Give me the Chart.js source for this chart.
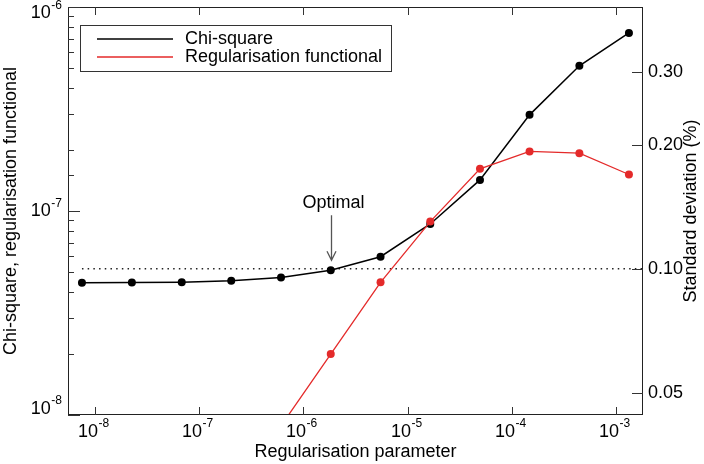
<!DOCTYPE html>
<html>
<head>
<meta charset="utf-8">
<script src="https://cdn.jsdelivr.net/npm/chart.js@4.4.1/dist/chart.umd.min.js"></script>
<style>
  html, body { margin: 0; padding: 0; background: #fff; }
  canvas { display: block; }
</style>
</head>
<body>
<canvas id="chart" width="704" height="464"></canvas>
<script>
// Datos
const regParam = [7.5e-9, 2.26e-8, 6.8e-8, 2.03e-7, 6.1e-7, 1.83e-6, 5.5e-6, 1.65e-5, 4.95e-5, 1.48e-4, 4.45e-4, 1.33e-3];
const chiSquare = [4.45e-8, 4.46e-8, 4.48e-8, 4.55e-8, 4.72e-8, 5.12e-8, 5.97e-8, 8.64e-8, 1.42e-7, 2.96e-7, 5.15e-7, 7.46e-7];
const regFunctional = [null, null, null, null, 8.85e-9, 1.99e-8, 4.47e-8, 8.87e-8, 1.61e-7, 1.96e-7, 1.92e-7, 1.51e-7];
const seriesNames = ['Chi-square', 'Regularisation functional'];
const seriesColors = ['#000000', '#e42a2a'];
const optimalIndex = 5;
const targetStd = 0.10;

// Ejes
const xRange = [5.51e-9, 1.815e-3];
const yRange = [1e-8, 1e-6];
const stdRange = [0.04414, 0.4317];
const stdTicks = [0.05, 0.10, 0.20, 0.30];

const FONT = "'Liberation Sans', Arial, Helvetica, sans-serif";
Chart.defaults.font.family = FONT;
Chart.defaults.color = '#000';

function isDecade(v) {
    const l = Math.log10(v);
    return Math.abs(l - Math.round(l)) < 1e-6;
}

// "10" con exponente
function drawPower(ctx, exp, x, y, align) {
    ctx.font = '18px ' + FONT;
    const wBase = ctx.measureText('10').width;
    ctx.font = '12px ' + FONT;
    const wExp = ctx.measureText(exp).width;
    const total = wBase + wExp + 0.5;
    let start = x;
    if (align === 'center') start = x - total / 2;
    if (align === 'right') start = x - total;
    ctx.textAlign = 'left';
    ctx.textBaseline = 'middle';
    ctx.font = '18px ' + FONT;
    ctx.fillText('10', start, y);
    ctx.font = '12px ' + FONT;
    ctx.fillText(exp, start + wBase + 0.5, y - 8);
}

const decorations = {
    id: 'decorations',
    afterDraw(chart) {
        const { ctx, chartArea: a } = chart;
        const { x, y, y2 } = chart.scales;
        ctx.save();

        // Marco
        ctx.strokeStyle = '#222';
        ctx.lineWidth = 1;
        ctx.strokeRect(a.left + 0.5, a.top + 0.5, a.right - a.left - 1, a.bottom - a.top - 1);

        // Eje x
        x.ticks.filter(t => isDecade(t.value)).forEach(t => {
            const px = Math.round(x.getPixelForValue(t.value)) + 0.5;
            ctx.strokeStyle = '#333';
            ctx.beginPath();
            ctx.moveTo(px, a.bottom);
            ctx.lineTo(px, a.bottom - 8);
            ctx.moveTo(px, a.top);
            ctx.lineTo(px, a.top + 8);
            ctx.stroke();
            ctx.fillStyle = '#000';
            drawPower(ctx, String(Math.round(Math.log10(t.value))), px - 2, a.bottom + 17, 'center');
        });

        // Eje y izquierdo
        y.ticks.forEach(t => {
            const py = Math.round(y.getPixelForValue(t.value)) + 0.5;
            const major = isDecade(t.value);
            ctx.strokeStyle = '#333';
            ctx.beginPath();
            ctx.moveTo(a.left, py);
            ctx.lineTo(a.left + (major ? 12 : 6), py);
            ctx.stroke();
            if (major) {
                const ly = Math.min(Math.max(py, a.top + 6.5), a.bottom - 6);
                ctx.fillStyle = '#000';
                drawPower(ctx, String(Math.round(Math.log10(t.value))), a.left - 6, ly, 'right');
            }
        });

        // Eje y derecho
        stdTicks.forEach(v => {
            const py = Math.round(y2.getPixelForValue(v)) + 0.5;
            ctx.strokeStyle = '#333';
            ctx.beginPath();
            ctx.moveTo(a.right - 11, py);
            ctx.lineTo(a.right, py);
            ctx.stroke();
            ctx.fillStyle = '#000';
            ctx.font = '18px ' + FONT;
            ctx.textAlign = 'left';
            ctx.textBaseline = 'middle';
            ctx.fillText(v.toFixed(2), a.right + 5, py);
        });
        ctx.save();
        ctx.translate(691, (a.top + a.bottom) / 2);
        ctx.rotate(-Math.PI / 2);
        ctx.textAlign = 'center';
        ctx.fillText('Standard deviation (%)', 0, 0);
        ctx.restore();

        // Leyenda
        ctx.strokeStyle = '#333';
        ctx.strokeRect(80.5, 25.5, 311, 46);
        seriesNames.forEach((name, i) => {
            const ly = 39 + i * 18;
            ctx.strokeStyle = seriesColors[i];
            ctx.lineWidth = 1.3;
            ctx.beginPath();
            ctx.moveTo(97, ly);
            ctx.lineTo(173, ly);
            ctx.stroke();
            ctx.fillStyle = '#000';
            ctx.font = '18px ' + FONT;
            ctx.textAlign = 'left';
            ctx.textBaseline = 'middle';
            ctx.fillText(name, 185, ly);
        });

        // Flecha "Optimal"
        const ox = Math.round(x.getPixelForValue(regParam[optimalIndex])) + 0.5;
        const oy = y.getPixelForValue(chiSquare[optimalIndex]);
        ctx.strokeStyle = '#555';
        ctx.lineWidth = 1.3;
        ctx.beginPath();
        ctx.moveTo(ox, oy - 55);
        ctx.lineTo(ox, oy - 10);
        ctx.moveTo(ox - 4.5, oy - 19);
        ctx.lineTo(ox, oy - 10);
        ctx.lineTo(ox + 4.5, oy - 19);
        ctx.stroke();
        ctx.fillStyle = '#000';
        ctx.textAlign = 'center';
        ctx.fillText('Optimal', ox + 2, oy - 67);

        ctx.restore();
    }
};

const axisCommon = {
    type: 'logarithmic',
    grid: { display: false },
    border: { display: false },
    ticks: { display: false }
};

new Chart(document.getElementById('chart'), {
    type: 'line',
    data: {
        datasets: [
            {
                label: seriesNames[1],
                data: regParam.map((v, i) => ({ x: v, y: regFunctional[i] })),
                borderColor: seriesColors[1],
                backgroundColor: seriesColors[1],
                borderWidth: 1.3,
                pointRadius: 4,
                pointBorderWidth: 0,
                yAxisID: 'y',
                order: 0
            },
            {
                label: seriesNames[0],
                data: regParam.map((v, i) => ({ x: v, y: chiSquare[i] })),
                borderColor: seriesColors[0],
                backgroundColor: seriesColors[0],
                borderWidth: 1.5,
                pointRadius: 4,
                pointBorderWidth: 0,
                yAxisID: 'y',
                order: 1
            },
            {
                label: '',
                data: [{ x: regParam[0], y: targetStd }, { x: xRange[1], y: targetStd }],
                borderColor: '#222',
                borderWidth: 1.5,
                borderDash: [1.5, 4.2],
                pointRadius: 0,
                yAxisID: 'y2',
                order: 2
            }
        ]
    },
    options: {
        responsive: false,
        animation: false,
        devicePixelRatio: 1,
        layout: { padding: { top: 7, left: 0, right: 0, bottom: 0 } },
        plugins: {
            legend: { display: false },
            tooltip: { enabled: false }
        },
        scales: {
            x: {
                ...axisCommon,
                position: 'bottom',
                min: xRange[0],
                max: xRange[1],
                title: {
                    display: true,
                    text: 'Regularisation parameter',
                    font: { size: 18 },
                    padding: { top: 0, bottom: 1.5 }
                },
                afterFit: s => { s.height = 49; }
            },
            y: {
                ...axisCommon,
                position: 'left',
                min: yRange[0],
                max: yRange[1],
                title: {
                    display: true,
                    text: 'Chi-square, regularisation functional',
                    font: { size: 18 },
                    padding: { top: 0, bottom: 0 }
                },
                afterFit: s => { s.width = 68; }
            },
            y2: {
                ...axisCommon,
                position: 'right',
                min: stdRange[0],
                max: stdRange[1],
                afterFit: s => { s.width = 61; }
            }
        }
    },
    plugins: [decorations]
});
</script>
</body>
</html>
